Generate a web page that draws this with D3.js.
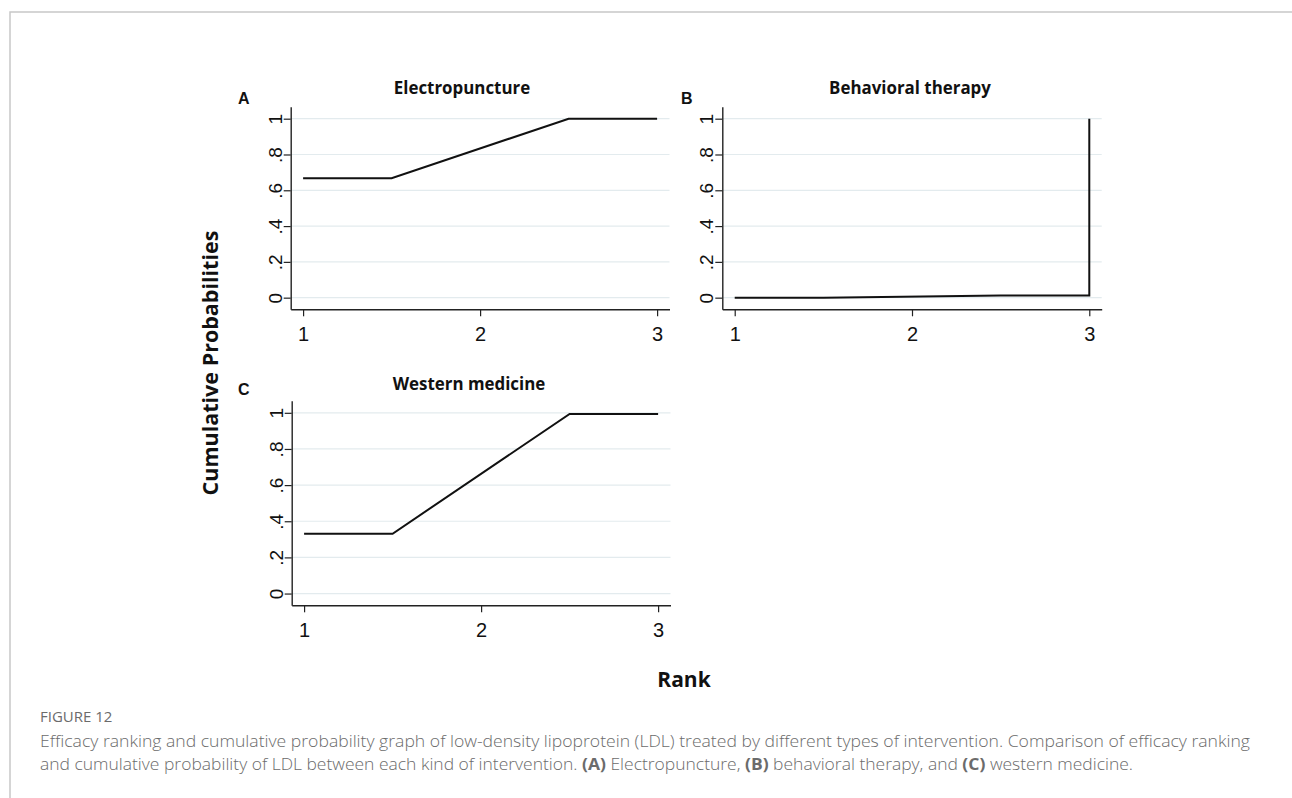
<!DOCTYPE html>
<html><head><meta charset="utf-8">
<script src="https://cdn.jsdelivr.net/npm/d3@7"></script>
<style>body{margin:0;background:#fff;} svg{display:block}</style>
</head><body><svg id="chart" width="1292" height="798"></svg>
<script>
// ---- data ----
const rankTicks = [1, 2, 3];
const probTicks = [0, 0.2, 0.4, 0.6, 0.8, 1];
const probTickLabels = ["0", ".2", ".4", ".6", ".8", "1"];
const panelTitles = ["Electropuncture", "Behavioral therapy", "Western medicine"];
const panelLetters = ["A", "B", "C"];
const electroRank = [1, 1.5, 2.5, 3];
const electroProb = [0.667, 0.667, 1, 1];
const behavRank = [1, 1.5, 2.5, 3, 3];
const behavProb = [0, 0, 0.012, 0.012, 1];
const westRank = [1, 1.5, 2.5, 3];
const westProb = [0.331, 0.331, 0.994, 0.994];
const yAxisTitle = "Cumulative Probabilities";
const xAxisTitle = "Rank";
const figureLabel = "FIGURE 12";

// ---- layout ----
const svg = d3.select("#chart");
const xDomain = [0.93, 3.07];
const yDomain = [-0.065, 1.067];
const panels = [
  {left: 290.7, right: 669.5, top: 106.7, bottom: 309.3, titleX: 462, titleY: 94, letterX: 238, letterY: 103.5, xs: electroRank, ys: electroProb},
  {left: 722.3, right: 1101.7, top: 106.7, bottom: 309.3, titleX: 910, titleY: 94, letterX: 681, letterY: 103.5, xs: behavRank, ys: behavProb},
  {left: 291.7, right: 670.5, top: 400.7, bottom: 605.3, titleX: 469, titleY: 389.5, letterX: 238, letterY: 395, xs: westRank, ys: westProb}
];

// figure border
svg.append("path").attr("d", "M10,798 L10,12 L1292,12")
  .attr("fill", "none").attr("stroke", "#c8c8c8").attr("stroke-width", 1.5);

panels.forEach((p, i) => {
  const x = d3.scaleLinear().domain(xDomain).range([p.left, p.right]);
  const y = d3.scaleLinear().domain(yDomain).range([p.bottom, p.top]);
  const g = svg.append("g");

  // gridlines
  g.selectAll("line.grid").data(probTicks).join("line")
    .attr("x1", p.left).attr("x2", p.right)
    .attr("y1", d => y(d)).attr("y2", d => y(d))
    .attr("stroke", "#e3ebee").attr("stroke-width", 1.2);

  // y axis
  const ya = g.append("g").attr("transform", `translate(${p.left},0)`)
    .call(d3.axisLeft(y).tickValues(probTicks).tickFormat((d, k) => probTickLabels[k]).tickSize(7).tickSizeOuter(0));
  ya.attr("font-size", 19).attr("font-family", "'Liberation Sans', Arial, sans-serif");
  ya.selectAll("text")
    .attr("x", null).attr("dy", null)
    .attr("text-anchor", "middle")
    .attr("transform", "translate(-9,0) rotate(-90)")
    .style("font-size", "19px");

  // x axis
  const xa = g.append("g").attr("transform", `translate(0,${p.bottom})`)
    .call(d3.axisBottom(x).tickValues(rankTicks).tickFormat(d3.format("d")).tickSize(7).tickSizeOuter(0));
  xa.attr("font-size", 20).attr("font-family", "'Liberation Sans', Arial, sans-serif");
  xa.selectAll("text").attr("y", 32).attr("dy", null).style("font-size", "20px");

  [ya, xa].forEach(a => {
    a.select(".domain").attr("stroke", "#222").attr("stroke-width", 1.4);
    a.selectAll(".tick line").attr("stroke", "#222").attr("stroke-width", 1.2);
    a.selectAll("text").attr("fill", "#111")
      .style("font-family", "'Liberation Sans', Arial, sans-serif");
  });

  // data line
  const line = d3.line().x(k => x(p.xs[k])).y(k => y(p.ys[k]));
  g.append("path").datum(d3.range(p.xs.length))
    .attr("d", line).attr("fill", "none")
    .attr("stroke", "#111").attr("stroke-width", 2).attr("stroke-linejoin", "miter");

  // title
  g.append("text").attr("x", p.titleX).attr("y", p.titleY)
    .attr("text-anchor", "middle").attr("fill", "#111")
    .style("font-family", "'Open Sans', sans-serif").style("font-weight", "700").style("font-size", "16.9px")
    .text(panelTitles[i]);

  // panel letter
  g.append("text").attr("x", p.letterX).attr("y", p.letterY)
    .attr("fill", "#111")
    .style("font-family", "'Liberation Sans', Arial, sans-serif").style("font-weight", "700").style("font-size", "16px")
    .text(panelLetters[i]);
});

// y axis title
svg.append("text")
  .attr("transform", "translate(218,363) rotate(-90)")
  .attr("text-anchor", "middle").attr("fill", "#111")
  .style("font-family", "'Open Sans', sans-serif").style("font-weight", "700").style("font-size", "21.5px")
  .text(yAxisTitle);

// x axis title
svg.append("text")
  .attr("x", 684).attr("y", 687)
  .attr("text-anchor", "middle").attr("fill", "#111")
  .style("font-family", "'Open Sans', sans-serif").style("font-weight", "700").style("font-size", "21px")
  .text(xAxisTitle);

// caption
svg.append("text").attr("x", 40).attr("y", 722)
  .attr("fill", "#6b6b6b")
  .style("font-family", "'Open Sans', sans-serif").style("font-size", "15px")
  .text(figureLabel);

const capStyle = t => t.attr("fill", "#6b6b6b")
  .attr("lengthAdjust", "spacingAndGlyphs")
  .style("font-family", "'Open Sans', sans-serif").style("font-weight", "300").style("font-size", "16.8px");
const l1 = svg.append("text").attr("x", 40).attr("y", 747).attr("textLength", 1210).call(capStyle);
l1.text("Efficacy ranking and cumulative probability graph of low-density lipoprotein (LDL) treated by different types of intervention. Comparison of efficacy ranking");
const l2 = svg.append("text").attr("x", 40).attr("y", 770).attr("textLength", 1093).call(capStyle);
const parts = [
  ["and cumulative probability of LDL between each kind of intervention. ", false],
  ["(A)", true], [" Electropuncture, ", false],
  ["(B)", true], [" behavioral therapy, and ", false],
  ["(C)", true], [" western medicine.", false]
];
parts.forEach(([t, b]) => l2.append("tspan").style("font-weight", b ? "700" : "300").text(t));
</script>
</body></html>
